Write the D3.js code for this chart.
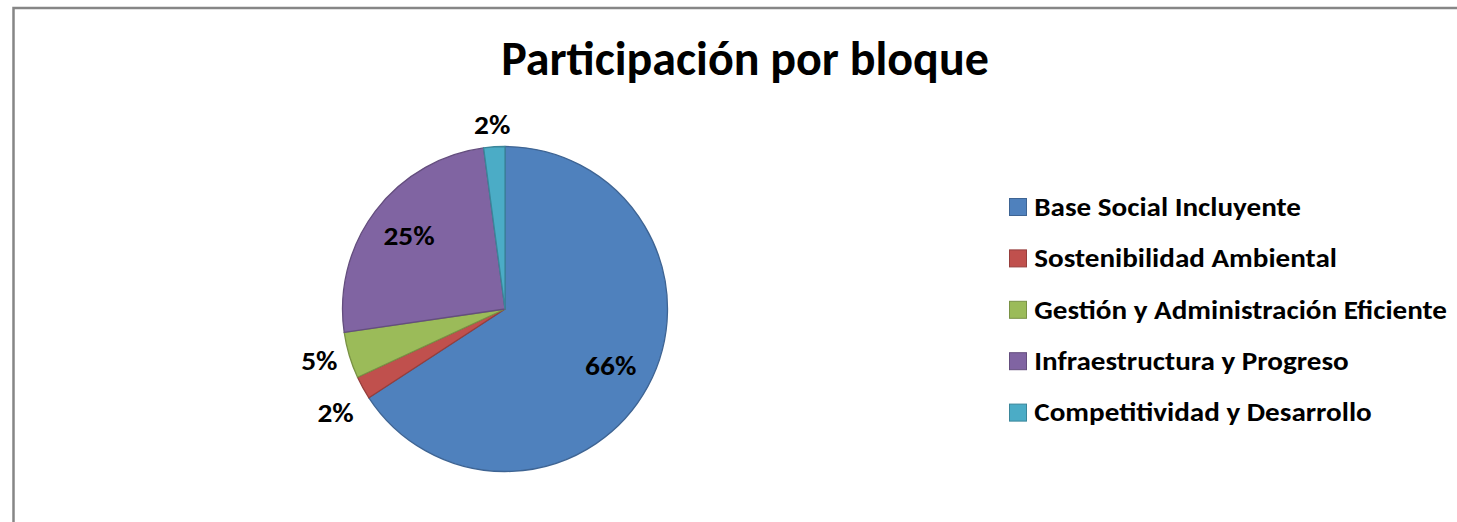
<!DOCTYPE html>
<html lang="es">
<head>
  <meta charset="UTF-8">
  <title>Participación por bloque</title>
  <script src="https://cdn.jsdelivr.net/npm/d3@7"></script>
  <style>
    html, body { margin: 0; padding: 0; background: #fff; }
    svg { display: block; }
    text { font-family: Carlito, Calibri, Lato, sans-serif; font-weight: 700; fill: #000; }
  </style>
</head>
<body>
  <div id="chart"></div>
  <script>
    // data (percent of total)
    const categories = [
      "Base Social Incluyente",
      "Sostenibilidad Ambiental",
      "Gestión y Administración Eficiente",
      "Infraestructura y Progreso",
      "Competitividad y Desarrollo"
    ];
    const values = [65.8, 2.3, 4.6, 25.2, 2.1];
    const colors = ["#4F81BD", "#C0504D", "#9BBB59", "#8064A2", "#4BACC6"];
    const title = "Participación por bloque";

    const w = 1457, h = 522;
    const cx = 505, cy = 309, radius = 162.5;
    const stretch = 1.13; // the source renders small bold text a bit wider

    const svg = d3.select("#chart").append("svg")
      .attr("width", w)
      .attr("height", h);

    // chart area frame (runs off the right and bottom of the window)
    svg.append("rect")
      .attr("x", 13.5).attr("y", 8)
      .attr("width", w).attr("height", h)
      .attr("fill", "none")
      .attr("stroke", "#868686")
      .attr("stroke-width", 2.5);

    // title
    svg.append("text")
      .attr("x", 745).attr("y", 74.5)
      .attr("text-anchor", "middle")
      .style("font-size", "48px")
      .text(title);

    const data = categories.map((c, i) => ({ name: c, value: values[i], color: colors[i] }));
    const total = d3.sum(values);

    const pie = d3.pie().sort(null).value(d => d.value);
    const arc = d3.arc().innerRadius(0).outerRadius(radius);
    const arcs = pie(data);

    const g = svg.append("g").attr("transform", `translate(${cx},${cy})`);

    g.selectAll("path.slice")
      .data(arcs)
      .enter()
      .append("path")
      .attr("class", "slice")
      .attr("d", arc)
      .attr("fill", d => d.data.color)
      .attr("stroke", d => d3.color(d.data.color).darker(0.7))
      .attr("stroke-width", 1.3)
      .attr("stroke-linejoin", "round");

    // percentage labels: inside for big slices, outside for the small ones
    const fmt = d => Math.round(d.data.value / total * 100) + "%";
    const labelSize = 26, capH = labelSize * 0.644;
    const gap = 13;

    const labels = g.selectAll("text.pct")
      .data(arcs)
      .enter()
      .append("text")
      .attr("class", "pct")
      .attr("text-anchor", "middle")
      .style("font-size", labelSize + "px")
      .text(fmt)
      .each(function (d) {
        const bw = this.getComputedTextLength() * stretch;
        this.setAttribute("textLength", bw);
        this.setAttribute("lengthAdjust", "spacingAndGlyphs");
        const a = (d.startAngle + d.endAngle) / 2;
        const s = Math.sin(a), c = -Math.cos(a);
        d.inside = d.endAngle - d.startAngle > 0.5;
        if (d.inside) {
          const r = radius * 0.74;
          d.lx = s * r; d.ly = c * r;
        } else {
          const r = radius + gap;
          d.lx = s * r + s * bw / 2;
          d.ly = c * r + c * capH / 2;
        }
      });

    // keep outside labels on the same side apart
    const minSep = labelSize * 2;
    const outer = arcs.filter(d => !d.inside);
    outer.forEach((d, i) => {
      outer.slice(0, i).forEach(p => {
        if (Math.sign(p.lx) === Math.sign(d.lx) && Math.abs(d.ly - p.ly) < minSep) {
          if (d.ly > p.ly) d.ly = p.ly + minSep;
          else p.ly = d.ly + minSep;
        }
      });
    });

    labels.attr("x", d => d.lx).attr("y", d => d.ly + capH / 2);

    // legend
    const legendY = d3.scalePoint()
      .domain(categories)
      .range([207, 412.6]);

    const legend = svg.append("g").attr("class", "legend");
    const item = legend.selectAll("g")
      .data(data)
      .enter()
      .append("g")
      .attr("transform", d => `translate(1009.5,${legendY(d.name)})`);

    item.append("rect")
      .attr("x", 0).attr("y", -8.5)
      .attr("width", 17).attr("height", 17)
      .attr("fill", d => d.color)
      .attr("stroke", d => d3.color(d.color).darker(0.7))
      .attr("stroke-width", 1);

    item.append("text")
      .attr("x", 24.8).attr("y", 8.7)
      .style("font-size", "26px")
      .text(d => d.name)
      .each(function () {
        this.setAttribute("textLength", this.getComputedTextLength() * (stretch - 0.01));
        this.setAttribute("lengthAdjust", "spacingAndGlyphs");
      });
  </script>
</body>
</html>
